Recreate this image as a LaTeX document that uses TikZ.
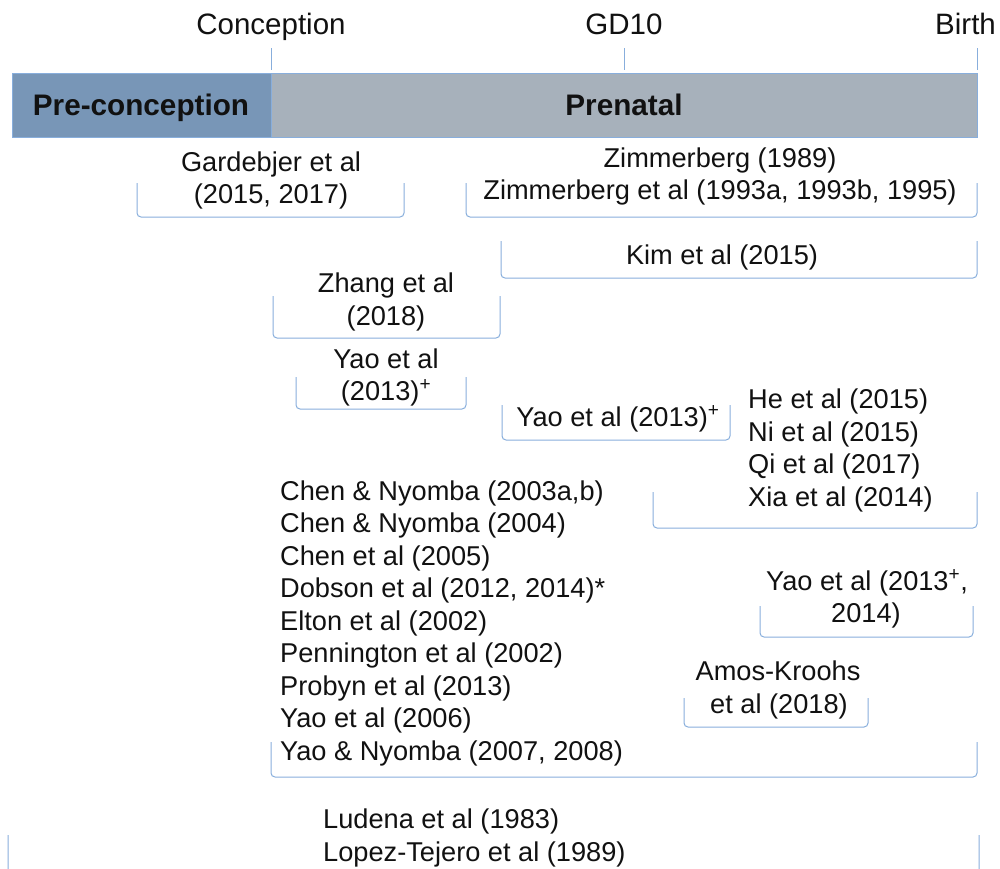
\documentclass[tikz,border=0pt]{standalone}
\usepackage{fontspec}
\setmainfont{Liberation Sans}
\definecolor{textc}{HTML}{111111}
\definecolor{brkc}{HTML}{88AEDC}
\definecolor{prec}{HTML}{7896B7}
\definecolor{prenc}{HTML}{A7B1BB}
\newcommand\bracketpath[4]{\draw[brk] (#1,#3) -- (#1,#4) -- (#2,#4) -- (#2,#3);}
\begin{document}
\begin{tikzpicture}[x=1pt,y=-1pt,
  txt/.style={inner sep=0pt, anchor=base, font=\fontsize{27.2}{32}\selectfont, text=textc},
  txtl/.style={txt, anchor=base west},
  head/.style={inner sep=0pt, anchor=base, font=\fontsize{29.5}{34}\selectfont, text=textc},
  boldlab/.style={inner sep=0pt, anchor=base, font=\fontsize{29.7}{34}\selectfont\bfseries, text=textc},
  brk/.style={draw=brkc, line width=1pt, rounded corners=4pt},
  tickline/.style={draw=brkc, line width=1pt}]
\useasboundingbox (0,0) rectangle (1000,868);
% bar
\fill[prec] (12,73) rectangle (271,137);
\fill[prenc] (271,73) rectangle (977,137);
\draw[brkc, line width=1pt] (12,73) rectangle (977,137);
\draw[brkc, line width=1pt] (271,73) -- (271,137);
% ticks
\draw[tickline] (271,48) -- (271,70);
\draw[tickline] (624,48) -- (624,70);
\draw[tickline] (977,48) -- (977,70);
% header labels
\node[head] (conc) at (271,34) {Conception};
\node[head] (gd10) at (624,34) {GD10};
\node[head, anchor=base west] (birth) at (935,34) {Birth};
\node[boldlab] (precon) at (141,115) {Pre-conception};
\node[boldlab] (prenat) at (624,115) {Prenatal};
% brackets
\bracketpath{137}{404}{183}{217}
\bracketpath{466}{977}{183}{217}
\bracketpath{501}{977}{241}{278}
\bracketpath{273}{500}{296}{338}
\bracketpath{296}{466}{377}{409}
\bracketpath{502}{730}{405}{440}
\bracketpath{653}{977}{492}{528}
\bracketpath{760}{973}{606}{637}
\bracketpath{684}{868}{698}{727}
\bracketpath{271}{977}{742}{777}
\bracketpath{8}{979}{835}{885}
% texts
\node[txt] (gard1) at (271,171) {Gardebjer et al};
\node[txt] (gard2) at (271,203) {(2015, 2017)};
\node[txt] (zim1) at (720,167) {Zimmerberg (1989)};
\node[txt] (zim2) at (720,199) {Zimmerberg et al (1993a, 1993b, 1995)};
\node[txt] (kim) at (722,264) {Kim et al (2015)};
\node[txt] (zh1) at (386,292) {Zhang et al};
\node[txt] (zh2) at (386,325) {(2018)};
\node[txt] (ya1) at (386,368) {Yao et al};
\node[txt] (ya2) at (386,400) {(2013)\textsuperscript{+}};
\node[txt] (yb) at (618,426) {Yao et al (2013)\textsuperscript{+}};
\node[txtl] (he) at (748,408) {He et al (2015)};
\node[txtl] (ni) at (748,441) {Ni et al (2015)};
\node[txtl] (qi) at (748,473) {Qi et al (2017)};
\node[txtl] (xia) at (748,506) {Xia et al (2014)};
\node[txtl] (c1) at (280,500) {Chen \& Nyomba (2003a,b)};
\node[txtl] (c2) at (280,532.5) {Chen \& Nyomba (2004)};
\node[txtl] (c3) at (280,565) {Chen et al (2005)};
\node[txtl] (c4) at (280,597.5) {Dobson et al (2012, 2014)*};
\node[txtl] (c5) at (280,630) {Elton et al (2002)};
\node[txtl] (c6) at (280,662.5) {Pennington et al (2002)};
\node[txtl] (c7) at (280,695) {Probyn et al (2013)};
\node[txtl] (c8) at (280,727.5) {Yao et al (2006)};
\node[txtl] (c9) at (280,760) {Yao \& Nyomba (2007, 2008)};
\node[txt] (yc1) at (867,590) {Yao et al (2013\textsuperscript{+},};
\node[txt] (yc2) at (866,622) {2014)};
\node[txt] (am1) at (778,680) {Amos-Kroohs};
\node[txt] (am2) at (779,713) {et al (2018)};
\node[txtl] (lud) at (323,828) {Ludena et al (1983)};
\node[txtl] (lop) at (323,861) {Lopez-Tejero et al (1989)};
\end{tikzpicture}
\end{document}
